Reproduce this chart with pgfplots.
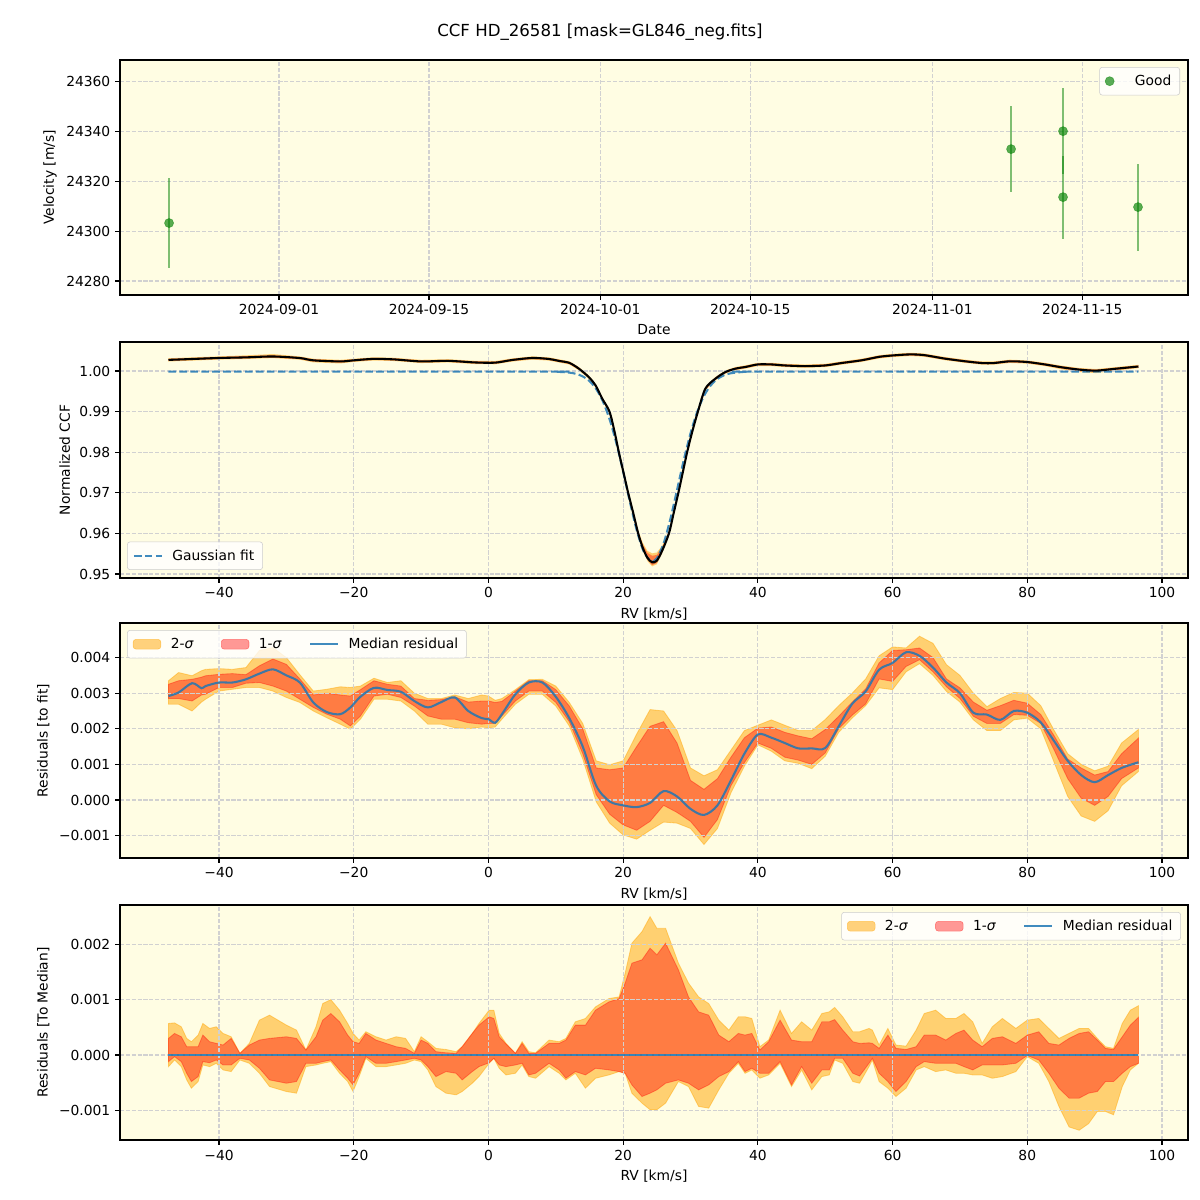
\documentclass[border=0pt]{standalone}
\usepackage{fontspec}
\setmainfont{DejaVu Sans}
\usepackage{pgfplots}
\pgfplotsset{compat=1.18}
\usepackage{pgfplotstable}
\usepgfplotslibrary{fillbetween}

\definecolor{bgy}{HTML}{FFFDE3}
\definecolor{mplgreen}{HTML}{008000}
\definecolor{mplorange}{HTML}{FFA500}
\definecolor{mplred}{HTML}{FF0000}
\definecolor{tabblue}{HTML}{1F77B4}

\pgfplotsset{
  layers/bandsbelow/.define layer set={
    axis background,pre main,axis grid,axis ticks,axis lines,
    axis tick labels,main,axis descriptions,axis foreground
  }{/pgfplots/layers/standard},
  mpl/.style={
    set layers=bandsbelow,
    scale only axis, width=10.68in, anchor=south west,
    axis background/.style={fill=bgy},
    axis line style={line width=0.8pt},
    tick align=outside, tick pos=left,
    major tick length=3.5pt,
    every tick/.style={black, line width=0.8pt},
    scaled x ticks=false, scaled y ticks=false,
    grid=major,
    major grid style={dash pattern=on 2.96pt off 1.28pt, black!18, line width=0.8pt},
    tick label style={font=\fontsize{10}{12}\selectfont},
    label style={font=\fontsize{10}{12}\selectfont},
    legend style={font=\fontsize{10}{12}\selectfont, draw=black!20, fill=white,
      fill opacity=0.8, text opacity=1, rounded corners=2pt,
      inner xsep=4pt, inner ysep=3.5pt,
      /tikz/every odd column/.append style={column sep=5pt},
      /tikz/every even column/.append style={column sep=18pt}},
    legend cell align=left,
  },
  rvx/.style={xmin=-54.7, xmax=103.86,
    xtick={-40,-20,0,20,40,60,80,100},
    xticklabels={−40,−20,0,20,40,60,80,100},
    xlabel={RV [km/s]}},
}

% CCF: median profile and band offsets
\pgfplotstableread{
x ccf l2 l1 h1 h2
-47.5 1.00273 -0.0004 -0.00025 0.00025 0.0004
-44 1.00295 -0.0004 -0.00025 0.00025 0.0004
-40 1.00320 -0.0004 -0.00025 0.00025 0.0004
-36 1.00335 -0.0004 -0.00025 0.00030 0.0005
-32 1.00357 -0.0004 -0.00025 0.00030 0.0006
-28 1.00318 -0.0004 -0.00025 0.00025 0.0004
-26 1.00262 -0.0005 -0.00030 0.00025 0.0004
-22 1.00235 -0.0005 -0.00030 0.00025 0.0004
-20 1.00262 -0.0004 -0.00025 0.00025 0.0004
-17 1.00298 -0.0004 -0.00025 0.00025 0.0004
-14 1.00285 -0.0004 -0.00025 0.00025 0.0004
-10 1.00235 -0.0004 -0.00025 0.00025 0.0004
-6 1.00250 -0.0004 -0.00025 0.00025 0.0004
-2 1.00210 -0.0004 -0.00025 0.00025 0.0004
1 1.00205 -0.0004 -0.00025 0.00025 0.0004
3.5 1.00270 -0.0004 -0.00025 0.00025 0.0004
6.5 1.00320 -0.0004 -0.00025 0.00025 0.0004
9 1.00295 -0.0004 -0.00025 0.00025 0.0004
10.5 1.00247 -0.0004 -0.00025 0.00025 0.0004
12 1.00200 -0.0004 -0.00025 0.00025 0.0004
13.4 1.00060 -0.0004 -0.00025 0.00025 0.0004
14.9 0.99850 -0.0004 -0.00025 0.00025 0.0004
15.9 0.99646 -0.0004 -0.00025 0.00025 0.0004
16.9 0.99317 -0.0004 -0.00025 0.00025 0.0004
17.97 0.99000 -0.0004 -0.00025 0.00025 0.0004
18.7 0.98520 -0.0004 -0.00025 0.00025 0.0004
19.36 0.98000 -0.0004 -0.00025 0.00030 0.0004
20.05 0.97500 -0.0004 -0.00025 0.00030 0.0005
20.74 0.97000 -0.0004 -0.00025 0.00030 0.0005
21.5 0.96500 -0.0004 -0.00030 0.00040 0.0006
22.23 0.96000 -0.0005 -0.00030 0.00050 0.0008
22.9 0.95650 -0.0006 -0.00040 0.00080 0.0012
23.6 0.95400 -0.0008 -0.00050 0.00120 0.0017
24.3 0.95288 -0.0010 -0.00070 0.00160 0.0022
25 0.95329 -0.0009 -0.00060 0.00140 0.0020
25.8 0.95576 -0.0006 -0.00040 0.00080 0.0012
26.8 0.96000 -0.0005 -0.00030 0.00050 0.0007
27.5 0.96500 -0.0004 -0.00025 0.00030 0.0005
28.2 0.97000 -0.0004 -0.00025 0.00030 0.0005
28.85 0.97500 -0.0004 -0.00025 0.00025 0.0004
29.5 0.98000 -0.0004 -0.00025 0.00025 0.0004
30.25 0.98500 -0.0004 -0.00025 0.00025 0.0004
31.1 0.99000 -0.0004 -0.00025 0.00025 0.0004
32.2 0.99564 -0.0004 -0.00025 0.00025 0.0004
33.7 0.99811 -0.0004 -0.00025 0.00025 0.0004
35.2 0.99975 -0.0004 -0.00025 0.00025 0.0004
36.7 1.00058 -0.0004 -0.00025 0.00025 0.0004
38.2 1.00100 -0.0004 -0.00025 0.00025 0.0004
40 1.00161 -0.0004 -0.00025 0.00025 0.0004
42 1.00161 -0.0004 -0.00025 0.00025 0.0004
44 1.00136 -0.0004 -0.00025 0.00025 0.0004
47 1.00119 -0.0004 -0.00025 0.00025 0.0004
50 1.00136 -0.0004 -0.00025 0.00025 0.0004
52.4 1.00195 -0.0004 -0.00025 0.00025 0.0004
55.4 1.00263 -0.0004 -0.00025 0.00025 0.0004
58 1.00348 -0.0004 -0.00025 0.00025 0.0004
60 1.00382 -0.0004 -0.00025 0.00025 0.0004
62.6 1.00408 -0.0004 -0.00025 0.00025 0.0004
64.7 1.00390 -0.0004 -0.00025 0.00025 0.0004
67.7 1.00306 -0.0004 -0.00025 0.00025 0.0004
70.8 1.00238 -0.0004 -0.00025 0.00025 0.0004
73.3 1.00195 -0.0004 -0.00025 0.00025 0.0004
75 1.00195 -0.0004 -0.00025 0.00025 0.0004
77.4 1.00238 -0.0004 -0.00025 0.00025 0.0004
80 1.00220 -0.0004 -0.00025 0.00025 0.0004
82.6 1.00161 -0.0004 -0.00025 0.00025 0.0004
85 1.00093 -0.0005 -0.00030 0.00025 0.0004
87.7 1.00034 -0.0006 -0.00040 0.00025 0.0004
90.2 1.00008 -0.0006 -0.00040 0.00025 0.0004
92.8 1.00050 -0.0005 -0.00030 0.00025 0.0004
96.5 1.00110 -0.0004 -0.00025 0.00025 0.0004
}\ccftab

% Gaussian fit values
\pgfplotstableread{
x g
-47.5 0.99985
8 0.99985
10 0.99981
12 0.99960
13 0.99929
14 0.99866
15 0.99751
16 0.99554
17 0.99246
18 0.98801
19 0.98215
20 0.97518
21 0.96775
22 0.96088
23 0.95571
24 0.95320
24.3 0.95305
25 0.95384
26 0.95751
27 0.96349
28 0.97072
29 0.97807
30 0.98465
31 0.98996
32 0.99385
33 0.99645
34 0.99805
35 0.99896
36 0.99944
38 0.99978
40 0.99985
96.5 0.99985
}\gausstab

% residuals to fit, units of 1e-3
\pgfplotstableread{
x lo2 lo1 med hi1 hi2
-47.5 2.69 2.85 2.92 3.25 3.35
-46 2.69 2.85 3.02 3.35 3.58
-44 2.50 2.78 3.28 3.39 3.49
-42.6 2.75 2.95 3.14 3.45 3.63
-42 2.83 2.97 3.20 3.49 3.67
-40 3.06 3.16 3.30 3.53 3.69
-38 3.11 3.16 3.30 3.55 3.67
-36 3.16 3.28 3.39 3.52 3.72
-34 3.16 3.30 3.55 3.77 4.20
-32 3.06 3.20 3.67 3.96 4.28
-30 2.88 3.06 3.50 3.81 4.00
-28 2.74 2.83 3.30 3.40 3.52
-26 2.50 2.60 2.74 2.95 3.06
-24 2.31 2.41 2.47 3.00 3.11
-22 2.13 2.27 2.41 2.95 3.18
-20.5 1.99 2.08 2.60 2.92 3.16
-19 2.27 2.36 2.90 3.10 3.20
-17 2.83 2.92 3.15 3.35 3.42
-15 2.83 2.97 3.09 3.25 3.30
-13 2.78 2.88 3.04 3.20 3.35
-11 2.50 2.64 2.78 2.85 3.00
-9 2.13 2.36 2.60 2.80 2.85
-7 2.13 2.27 2.75 2.82 2.85
-5 2.03 2.27 2.88 2.90 2.95
-3 2.00 2.17 2.50 2.75 2.85
-1 2.05 2.13 2.30 2.78 2.95
0 2.03 2.15 2.27 2.78 2.92
1 2.05 2.15 2.17 2.74 2.80
2 2.27 2.36 2.41 2.77 2.85
4 2.69 2.78 2.97 3.06 3.10
6 2.97 3.06 3.30 3.35 3.38
8 2.97 3.06 3.30 3.35 3.39
10 2.64 2.74 2.90 3.10 3.20
12 2.08 2.20 2.30 2.64 2.74
14 1.15 1.30 1.50 2.00 2.15
16 -0.05 0.15 0.40 0.90 1.10
18 -0.65 -0.40 -0.04 0.85 0.99
20 -0.98 -0.70 -0.15 0.90 1.10
22 -1.10 -0.85 -0.20 1.50 1.85
24 -0.85 -0.60 -0.08 2.07 2.54
26 -0.62 -0.15 0.25 2.20 2.50
28 -0.65 -0.35 0.10 1.60 1.95
30 -0.80 -0.60 -0.25 0.55 0.90
32 -1.25 -1.05 -0.42 0.30 0.68
34 -0.80 -0.55 -0.15 0.60 0.85
36 0.20 0.40 0.55 1.20 1.40
38 0.95 1.05 1.30 1.75 1.95
40 1.55 1.60 1.84 2.02 2.10
42 1.37 1.45 1.75 2.05 2.25
44 1.10 1.20 1.60 1.90 2.10
46 1.03 1.12 1.45 1.80 1.95
48 0.88 1.00 1.45 1.72 1.95
50 1.23 1.32 1.46 1.98 2.26
52 1.90 2.00 2.07 2.35 2.65
54 2.30 2.38 2.70 2.75 3.00
56 2.65 2.70 3.05 3.12 3.40
58 3.15 3.40 3.66 3.85 4.05
60 3.10 3.33 3.85 4.20 4.30
62 3.60 3.75 4.15 4.22 4.27
64 3.83 3.94 4.05 4.27 4.60
66 3.50 3.60 3.72 4.00 4.40
68 3.05 3.18 3.30 3.40 3.80
70 2.75 2.85 3.00 3.15 3.50
72 2.25 2.35 2.45 2.75 3.00
74 1.95 2.15 2.40 2.52 2.62
76 1.95 2.15 2.25 2.65 2.85
78 2.25 2.40 2.50 2.80 3.02
80 2.30 2.38 2.45 2.72 3.00
82 2.00 2.15 2.18 2.40 2.65
84 1.05 1.40 1.65 1.80 1.95
86 0.10 0.60 1.10 1.15 1.30
88 -0.45 0.05 0.70 0.90 1.00
90 -0.60 -0.15 0.50 0.70 0.82
92 -0.30 0.10 0.70 0.80 0.95
94 0.40 0.60 0.90 1.30 1.60
96.5 0.80 0.90 1.06 1.74 1.98
}\resfit

% residuals to median, units of 1e-3
\pgfplotstableread{
x lo2 lo1 med hi1 hi2
-47.5 -0.21 -0.12 0 0.30 0.57
-46.6 -0.09 -0.03 0 0.39 0.58
-45.6 -0.21 -0.12 0 0.33 0.51
-44.8 -0.45 -0.33 0 0.15 0.30
-44.1 -0.60 -0.48 0 0.15 0.24
-43.1 -0.48 -0.39 0 0.15 0.36
-42.4 -0.18 -0.12 0 0.36 0.57
-41.4 -0.21 -0.14 0 0.24 0.48
-40.4 -0.15 -0.09 0 0.21 0.51
-39.4 -0.27 -0.18 0 0.18 0.39
-38.2 -0.30 -0.18 0 0.30 0.33
-36.9 -0.09 -0.06 0 0.03 0.03
-35.5 -0.15 -0.09 0 0.18 0.21
-34.0 -0.33 -0.24 0 0.27 0.63
-32.5 -0.57 -0.45 0 0.30 0.72
-30.0 -0.66 -0.51 0 0.33 0.54
-28.5 -0.69 -0.48 0 0.30 0.45
-27.1 -0.21 -0.15 0 0.09 0.09
-25.6 -0.18 -0.15 0 0.33 0.51
-24.6 -0.15 -0.12 0 0.63 0.93
-23.4 -0.12 -0.09 0 0.75 1.00
-22.1 -0.33 -0.27 0 0.60 0.81
-20.9 -0.48 -0.42 0 0.36 0.57
-20.1 -0.66 -0.54 0 0.24 0.39
-19.2 -0.39 -0.33 0 0.21 0.27
-18.2 -0.06 -0.03 0 0.39 0.42
-16.7 -0.21 -0.15 0 0.27 0.33
-15.2 -0.21 -0.15 0 0.21 0.27
-13.7 -0.18 -0.12 0 0.15 0.33
-12.3 -0.15 -0.09 0 0.12 0.30
-11.0 -0.09 -0.06 0 0.03 0.06
-10.0 -0.12 -0.09 0 0.27 0.33
-9.0 -0.27 -0.21 0 0.21 0.24
-7.8 -0.57 -0.39 0 0.06 0.12
-6.3 -0.69 -0.30 0 0.04 0.10
-4.8 -0.72 -0.33 0 0.03 0.06
-3.9 -0.66 -0.45 0 0.15 0.15
-2.4 -0.51 -0.30 0 0.39 0.39
-1.4 -0.39 -0.21 0 0.54 0.57
0.1 -0.15 -0.14 0 0.69 0.81
0.8 -0.06 -0.06 0 0.66 0.81
1.6 -0.24 -0.18 0 0.33 0.39
2.6 -0.36 -0.21 0 0.20 0.21
4.0 -0.33 -0.18 0 0.03 0.03
5.0 -0.18 -0.15 0 0.21 0.24
6.0 -0.39 -0.36 0 0.03 0.06
7.0 -0.42 -0.33 0 0.03 0.04
9.0 -0.21 -0.15 0 0.21 0.27
10.5 -0.33 -0.27 0 0.21 0.24
11.5 -0.45 -0.42 0 0.27 0.30
12.9 -0.33 -0.30 0 0.54 0.60
14.4 -0.60 -0.36 0 0.54 0.66
15.9 -0.42 -0.24 0 0.81 0.87
17.9 -0.36 -0.27 0 0.96 1.02
19.4 -0.30 -0.30 0 1.02 1.05
20.3 -0.33 -0.33 0 1.30 1.48
21.3 -0.69 -0.54 0 1.66 2.02
22.8 -0.87 -0.75 0 1.72 2.23
24.0 -0.99 -0.69 0 1.93 2.50
25.0 -0.99 -0.63 0 1.81 2.29
26.3 -0.87 -0.51 0 2.02 2.29
28.2 -0.48 -0.45 0 1.54 1.66
29.7 -0.57 -0.51 0 1.05 1.30
31.2 -0.93 -0.63 0 0.78 1.05
32.7 -0.96 -0.54 0 0.72 0.93
34.2 -0.63 -0.39 0 0.36 0.63
35.7 -0.33 -0.30 0 0.24 0.45
37.1 -0.15 -0.12 0 0.39 0.69
38.1 -0.33 -0.30 0 0.36 0.69
39.1 -0.27 -0.24 0 0.39 0.66
40.3 -0.42 -0.33 0 0.09 0.15
41.6 -0.36 -0.33 0 0.24 0.27
43.3 -0.15 -0.12 0 0.63 0.81
45.0 -0.57 -0.54 0 0.27 0.39
46.5 -0.27 -0.21 0 0.24 0.60
48.0 -0.63 -0.51 0 0.24 0.45
49.5 -0.39 -0.27 0 0.60 0.75
50.6 -0.36 -0.27 0 0.60 0.78
51.4 -0.09 -0.06 0 0.64 0.86
52.6 -0.15 -0.06 0 0.45 0.69
54.1 -0.48 -0.33 0 0.24 0.42
55.1 -0.51 -0.38 0 0.21 0.42
56.5 -0.21 -0.15 0 0.22 0.48
57.0 -0.09 -0.06 0 0.21 0.45
58.0 -0.48 -0.33 0 0.12 0.18
59.3 -0.60 -0.48 0 0.36 0.48
60.5 -0.75 -0.66 0 0.12 0.18
62.0 -0.60 -0.48 0 0.10 0.16
63.5 -0.27 -0.21 0 0.15 0.45
64.7 -0.21 -0.12 0 0.36 0.75
66.4 -0.30 -0.15 0 0.36 0.81
67.9 -0.27 -0.15 0 0.27 0.66
69.4 -0.33 -0.15 0 0.39 0.66
70.6 -0.33 -0.21 0 0.45 0.75
71.9 -0.36 -0.27 0 0.27 0.60
73.3 -0.36 -0.18 0 0.15 0.21
74.8 -0.42 -0.18 0 0.30 0.51
76.3 -0.39 -0.18 0 0.33 0.66
78.3 -0.30 -0.15 0 0.21 0.48
80.0 -0.03 -0.01 0 0.36 0.63
81.7 -0.15 -0.09 0 0.42 0.66
83.2 -0.48 -0.33 0 0.21 0.48
84.7 -0.93 -0.60 0 0.18 0.30
86.2 -1.30 -0.78 0 0.30 0.39
87.7 -1.36 -0.78 0 0.39 0.48
89.1 -1.24 -0.69 0 0.42 0.48
90.4 -1.02 -0.66 0 0.27 0.30
91.6 -1.02 -0.48 0 0.12 0.15
92.8 -1.08 -0.48 0 0.10 0.12
94.1 -0.57 -0.33 0 0.33 0.57
95.3 -0.27 -0.21 0 0.54 0.81
96.5 -0.15 -0.15 0 0.68 0.89
}\resmed

\begin{document}
\begin{tikzpicture}
\path (0,0) rectangle (12in,12in);
\node at (6in,11.68in) {\fontsize{12}{14}\selectfont CCF HD\_26581 [mask=GL846\_neg.fits]};

% ---- panel 1: velocities
\begin{axis}[mpl, at={(1.2in,9.05in)}, height=2.35in,
  xmin=-14.85, xmax=84.87, ymin=24274.4, ymax=24368.8,
  xtick={0,14,30,44,61,75},
  xticklabels={2024-09-01,2024-09-15,2024-10-01,2024-10-15,2024-11-01,2024-11-15},
  ytick={24280,24300,24320,24340,24360},
  yticklabels={24280,24300,24320,24340,24360},
  xlabel={Date}, ylabel={Velocity [m/s]},
  legend style={at={(0.9925,0.97)}, anchor=north east}]
\addplot[only marks, mark=*, mark size=3.3pt, color=mplgreen,
  mark options={fill=mplgreen, fill opacity=0.65, draw opacity=0.5},
  error bars/.cd, y dir=both, y explicit, error mark=none,
  error bar style={line width=1.4pt, mplgreen, opacity=0.5}]
  coordinates {
  (-10.27,24303.3) +- (0,17.9)
  (68.35,24333.0) +- (0,17.3)
  (73.2,24340.2) +- (0,17.3)
  (73.2,24313.7) +- (0,16.7)
  (80.2,24309.7) +- (0,17.5)
  };
\addlegendimage{legend image code/.code={\fill[mplgreen, fill opacity=0.5] (10pt,0pt) circle (2pt);}}
\addlegendentry{\hspace{8pt}Good}
\end{axis}

% ---- panel 2: CCF
\begin{axis}[mpl, rvx, at={(1.2in,6.22in)}, height=2.36in,
  ymin=0.94901, ymax=1.00714,
  ytick={0.95,0.96,0.97,0.98,0.99,1.00},
  yticklabels={0.95,0.96,0.97,0.98,0.99,1.00},
  ylabel={Normalized CCF},
  legend style={at={(0.0066,0.034)}, anchor=south west}]
\addplot[name path=ch2, draw=none, forget plot] table[x=x, y expr=\thisrow{ccf}+\thisrow{h2}]{\ccftab};
\addplot[name path=cl2, draw=none, forget plot] table[x=x, y expr=\thisrow{ccf}+\thisrow{l2}]{\ccftab};
\addplot[name path=ch1, draw=none, forget plot] table[x=x, y expr=\thisrow{ccf}+\thisrow{h1}]{\ccftab};
\addplot[name path=cl1, draw=none, forget plot] table[x=x, y expr=\thisrow{ccf}+\thisrow{l1}]{\ccftab};
\addplot[fill=mplorange, fill opacity=0.5, draw=none, forget plot] fill between[of=ch2 and cl2];
\addplot[fill=mplred, fill opacity=0.4, draw=none, forget plot] fill between[of=ch1 and cl1];
\addplot[tabblue, opacity=0.85, line width=1.5pt, dash pattern=on 5.5pt off 2.4pt, smooth, forget plot] table[x=x, y=g]{\gausstab};
\addplot[black, line width=1.5pt, smooth, forget plot] table[x=x, y=ccf]{\ccftab};
\addlegendimage{legend image code/.code={\draw[tabblue, opacity=0.85, line width=1.5pt, dash pattern=on 5.5pt off 2.4pt] (0pt,0pt) -- (20pt,0pt);}}
\addlegendentry{Gaussian fit}
\end{axis}

% ---- panel 3: residuals to fit
\begin{axis}[mpl, rvx, at={(1.2in,3.42in)}, height=2.35in,
  ymin=-1.629, ymax=4.972,
  ytick={-1,0,1,2,3,4},
  yticklabels={−0.001,0.000,0.001,0.002,0.003,0.004},
  ylabel={Residuals [to fit]},
  legend columns=3,
  legend style={at={(0.0066,0.97)}, anchor=north west}]
\addplot[name path=rh2, draw=none, forget plot] table[x=x, y=hi2]{\resfit};
\addplot[name path=rl2, draw=none, forget plot] table[x=x, y=lo2]{\resfit};
\addplot[name path=rh1, draw=none, forget plot] table[x=x, y=hi1]{\resfit};
\addplot[name path=rl1, draw=none, forget plot] table[x=x, y=lo1]{\resfit};
\addplot[fill=mplorange, fill opacity=0.5, draw=mplorange, draw opacity=0.45, line width=0.6pt, forget plot] fill between[of=rh2 and rl2];
\addplot[fill=mplred, fill opacity=0.4, draw=mplred, draw opacity=0.35, line width=0.6pt, forget plot] fill between[of=rh1 and rl1];
\addplot[tabblue, opacity=0.85, line width=1.5pt, smooth, forget plot] table[x=x, y=med]{\resfit};
\addlegendimage{legend image code/.code={\filldraw[fill=mplorange, fill opacity=0.5, draw=mplorange, draw opacity=0.5] (0pt,-3.5pt) rectangle (20pt,3.5pt);}}
\addlegendentry{2-{\itshape σ}}
\addlegendimage{legend image code/.code={\filldraw[fill=mplred, fill opacity=0.4, draw=mplred, draw opacity=0.4] (0pt,-3.5pt) rectangle (20pt,3.5pt);}}
\addlegendentry{1-{\itshape σ}}
\addlegendimage{legend image code/.code={\draw[tabblue, opacity=0.85, line width=1.5pt] (0pt,0pt) -- (20pt,0pt);}}
\addlegendentry{Median residual}
\end{axis}

% ---- panel 4: residuals to median
\begin{axis}[mpl, rvx, at={(1.2in,0.60in)}, height=2.35in,
  ymin=-1.536, ymax=2.711,
  ytick={-1,0,1,2},
  yticklabels={−0.001,0.000,0.001,0.002},
  ylabel={Residuals [To Median]},
  legend columns=3,
  legend style={at={(0.9934,0.97)}, anchor=north east}]
\addplot[name path=mh2, draw=none, forget plot] table[x=x, y=hi2]{\resmed};
\addplot[name path=ml2, draw=none, forget plot] table[x=x, y=lo2]{\resmed};
\addplot[name path=mh1, draw=none, forget plot] table[x=x, y=hi1]{\resmed};
\addplot[name path=ml1, draw=none, forget plot] table[x=x, y=lo1]{\resmed};
\addplot[fill=mplorange, fill opacity=0.5, draw=mplorange, draw opacity=0.45, line width=0.6pt, forget plot] fill between[of=mh2 and ml2];
\addplot[fill=mplred, fill opacity=0.4, draw=mplred, draw opacity=0.35, line width=0.6pt, forget plot] fill between[of=mh1 and ml1];
\addplot[tabblue, opacity=0.85, line width=1.5pt, forget plot] table[x=x, y=med]{\resmed};
\addlegendimage{legend image code/.code={\filldraw[fill=mplorange, fill opacity=0.5, draw=mplorange, draw opacity=0.5] (0pt,-3.5pt) rectangle (20pt,3.5pt);}}
\addlegendentry{2-{\itshape σ}}
\addlegendimage{legend image code/.code={\filldraw[fill=mplred, fill opacity=0.4, draw=mplred, draw opacity=0.4] (0pt,-3.5pt) rectangle (20pt,3.5pt);}}
\addlegendentry{1-{\itshape σ}}
\addlegendimage{legend image code/.code={\draw[tabblue, opacity=0.85, line width=1.5pt] (0pt,0pt) -- (20pt,0pt);}}
\addlegendentry{Median residual}
\end{axis}
\end{tikzpicture}
\end{document}
